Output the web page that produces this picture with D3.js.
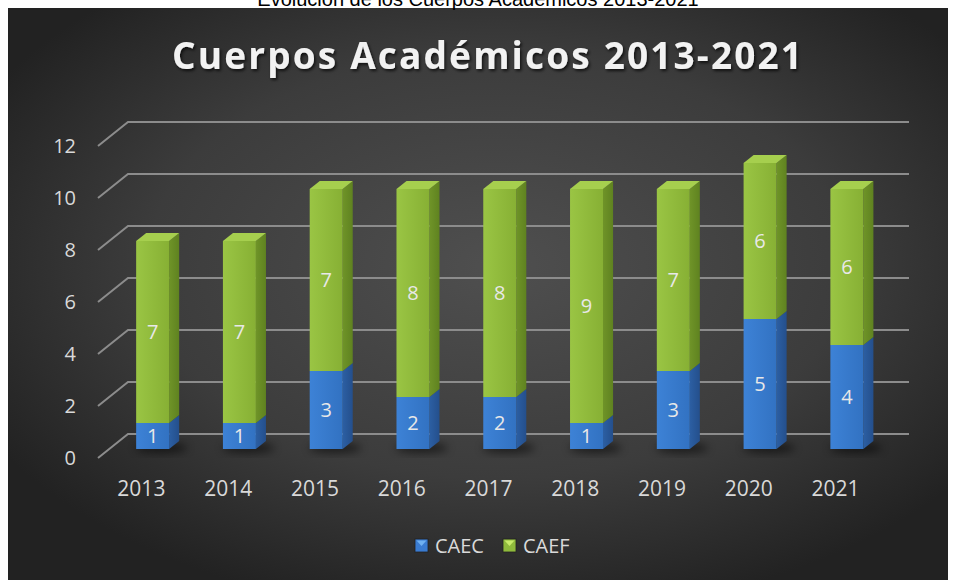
<!DOCTYPE html>
<html lang="es">
<head>
  <meta charset="UTF-8">
  <title>Cuerpos Académicos 2013-2021</title>
  <style>
    body { margin: 0; background: #fff; }
    svg { display: block; }
  </style>
</head>
<body>
  <script src="https://cdn.jsdelivr.net/npm/d3@7"></script>
  <div id="chart"></div>

  <script>
    const years = ['2013', '2014', '2015', '2016', '2017', '2018', '2019', '2020', '2021']
    const caec = [1, 1, 3, 2, 2, 1, 3, 5, 4]
    const caef = [7, 7, 7, 8, 8, 9, 7, 6, 6]
    const yTicks = [0, 2, 4, 6, 8, 10, 12]
    const seriesNames = ['CAEC', 'CAEF']

    const W = 956, H = 580
    const font = '"Open Sans", "Noto Sans", sans-serif'

    const svg = d3.select('#chart')
      .append('svg')
      .attr('width', W)
      .attr('height', H)

    const defs = svg.append('defs')

    // panel background
    const bg = defs.append('radialGradient')
      .attr('id', 'bg')
      .attr('cx', '52%').attr('cy', '45%').attr('r', '62%')
    bg.append('stop').attr('offset', '0%').attr('stop-color', '#4f4f4f')
    bg.append('stop').attr('offset', '60%').attr('stop-color', '#3c3c3c')
    bg.append('stop').attr('offset', '100%').attr('stop-color', '#222')

    // bar face gradients
    function hGrad(id, c1, c2) {
      const g = defs.append('linearGradient').attr('id', id)
        .attr('x1', 0).attr('x2', 1).attr('y1', 0).attr('y2', 0)
      g.append('stop').attr('offset', '0%').attr('stop-color', c1)
      g.append('stop').attr('offset', '100%').attr('stop-color', c2)
    }
    hGrad('gFront', '#9ac544', '#87b034')
    hGrad('gSide', '#6f9428', '#5f8220')
    hGrad('bFront', '#3d82d6', '#3272c2')
    hGrad('bSide', '#2c5fa3', '#244f8c')

    const colors = {
      CAEC: {front: 'url(#bFront)', side: 'url(#bSide)', top: '#4a8fe0', mark: '#3a7bd0'},
      CAEF: {front: 'url(#gFront)', side: 'url(#gSide)', top: '#a6cf4e', mark: '#8fba3c'}
    }

    const shadow = defs.append('filter').attr('id', 'blur')
      .attr('x', '-50%').attr('y', '-50%').attr('width', '200%').attr('height', '200%')
    shadow.append('feGaussianBlur').attr('stdDeviation', 4)

    const tshadow = defs.append('filter').attr('id', 'tshadow')
    tshadow.append('feDropShadow')
      .attr('dx', 1.5).attr('dy', 2).attr('stdDeviation', 1.5)
      .attr('flood-color', '#000').attr('flood-opacity', 0.7)

    svg.append('rect')
      .attr('x', 8).attr('y', 8)
      .attr('width', 940).attr('height', H - 8)
      .attr('fill', 'url(#bg)')

    // caption above the panel (cut at the top, as in the source)
    svg.append('text')
      .attr('x', 478).attr('y', 6)
      .attr('text-anchor', 'middle')
      .style('font-family', '"Liberation Sans", sans-serif')
      .style('font-size', '20px')
      .attr('fill', '#000')
      .text('Evolución de los Cuerpos Académicos 2013-2021')

    // title
    svg.append('text')
      .attr('x', 487).attr('y', 69)
      .attr('text-anchor', 'middle')
      .attr('textLength', 630)
      .attr('lengthAdjust', 'spacing')
      .style('font-family', font)
      .style('font-size', '37px')
      .style('font-weight', 'bold')
      .attr('fill', '#f2f2f2')
      .attr('filter', 'url(#tshadow)')
      .text('Cuerpos Académicos 2013-2021')

    // 3d frame: front plane and depth offset
    const depthX = 30, depthY = -24
    const x = d3.scaleBand()
      .domain(years)
      .range([98, 879])
      .paddingInner(0.62)
      .paddingOuter(0.31)
    const y = d3.scaleLinear()
      .domain([0, 12])
      .range([458, 146])

    const P = (xf, v, d) => [xf + depthX * d, y(v) + depthY * d]

    // gridlines
    const grid = svg.append('g')
    grid.selectAll('path')
      .data(yTicks)
      .join('path')
      .attr('d', d => {
        const a = P(98, d, 0), b = P(98, d, 1), c = P(879, d, 1)
        return `M${a}L${b}L${c}`
      })
      .attr('fill', 'none')
      .attr('stroke', '#8c8c8c')
      .attr('stroke-width', 2)

    // y tick labels
    svg.append('g')
      .selectAll('text')
      .data(yTicks)
      .join('text')
      .attr('x', 76)
      .attr('y', d => y(d))
      .attr('dy', '0.36em')
      .attr('text-anchor', 'end')
      .style('font-family', font)
      .style('font-size', '20px')
      .attr('fill', '#d9d9d9')
      .text(d => d)

    // category labels
    svg.append('g')
      .selectAll('text')
      .data(years)
      .join('text')
      .attr('x', d => x(d) + x.bandwidth() / 2)
      .attr('y', 488)
      .attr('dy', '0.36em')
      .attr('text-anchor', 'middle')
      .style('font-family', font)
      .style('font-size', '21px')
      .attr('fill', '#d9d9d9')
      .text(d => d)

    // stacked data
    const table = years.map((yr, i) => ({year: yr, CAEC: caec[i], CAEF: caef[i]}))
    const stacked = d3.stack().keys(seriesNames)(table)

    const d1 = 0.375, d2 = 0.71
    const poly = pts => 'M' + pts.map(p => p.join(',')).join('L') + 'Z'

    // base shadows
    svg.append('g')
      .selectAll('ellipse')
      .data(years)
      .join('ellipse')
      .attr('cx', d => x(d) + x.bandwidth() / 2 + 20)
      .attr('cy', d => P(0, 0, d1)[1] - 1)
      .attr('rx', 26)
      .attr('ry', 5)
      .attr('fill', '#000')
      .attr('opacity', 0.55)
      .attr('filter', 'url(#blur)')

    const bars = svg.append('g')
    years.forEach((yr, i) => {
      const xl = x(yr), xr = x(yr) + x.bandwidth()
      stacked.forEach((s, si) => {
        const [v0, v1] = s[i]
        const c = colors[s.key]
        const g = bars.append('g')
        g.append('path')
          .attr('d', poly([P(xr, v0, d1), P(xr, v0, d2), P(xr, v1, d2), P(xr, v1, d1)]))
          .attr('fill', c.side)
        g.append('path')
          .attr('d', poly([P(xl, v0, d1), P(xr, v0, d1), P(xr, v1, d1), P(xl, v1, d1)]))
          .attr('fill', c.front)
        if (si === stacked.length - 1) {
          g.append('path')
            .attr('d', poly([P(xl, v1, d1), P(xr, v1, d1), P(xr, v1, d2), P(xl, v1, d2)]))
            .attr('fill', c.top)
        }
        const mid = P((xl + xr) / 2, (v0 + v1) / 2, d1)
        g.append('text')
          .attr('x', mid[0])
          .attr('y', mid[1])
          .attr('dy', '0.36em')
          .attr('text-anchor', 'middle')
          .style('font-family', font)
          .style('font-size', '20px')
          .attr('fill', '#e8e8e8')
          .text(v1 - v0)
      })
    })

    // legend
    const legend = svg.append('g')
    const legendX = [415, 503]
    seriesNames.forEach((name, i) => {
      const lg = legend.append('g').attr('transform', `translate(${legendX[i]}, 539)`)
      lg.append('rect')
        .attr('width', 13).attr('height', 13)
        .attr('fill', colors[name].mark)
        .attr('stroke', '#222').attr('stroke-width', 0.8)
      lg.append('path')
        .attr('d', 'M1.5,1.5L11.5,1.5L6.5,7Z')
        .attr('fill', i === 0 ? '#6fb0f0' : '#c8ea6a')
      lg.append('text')
        .attr('x', 20)
        .attr('y', 7)
        .attr('dy', '0.36em')
        .style('font-family', font)
        .style('font-size', '20px')
        .attr('fill', '#d9d9d9')
        .text(name)
    })
  </script>
</body>
</html>
